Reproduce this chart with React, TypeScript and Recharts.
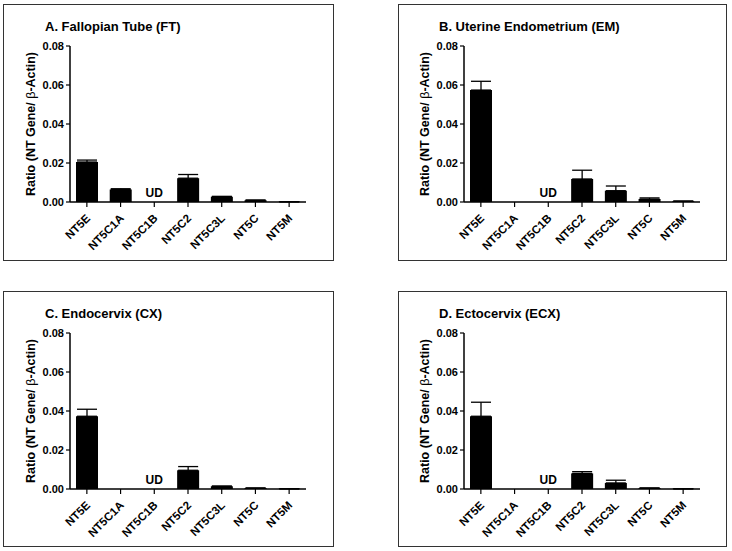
import React from "react";
import { BarChart, Bar, XAxis, YAxis, ErrorBar, ReferenceDot } from "recharts";

const genes = ["NT5E", "NT5C1A", "NT5C1B", "NT5C2", "NT5C3L", "NT5C", "NT5M"];
const undetected = [false, false, true, false, false, false, false];
const yTicks = [0, 0.02, 0.04, 0.06, 0.08];

// means and upper SEM per tissue
const ftMeans = [0.0205, 0.0064, 0, 0.0122, 0.0027, 0.0009, 0.0001];
const ftErrs = [0.001, 0.0004, 0, 0.0019, 0.0002, 0.0001, 0];
const emMeans = [0.0574, 0, 0, 0.0118, 0.0058, 0.0015, 0.0004];
const emErrs = [0.0045, 0, 0, 0.0045, 0.0024, 0.0006, 0.0001];
const cxMeans = [0.0373, 0, 0, 0.0096, 0.0014, 0.0005, 0.0001];
const cxErrs = [0.0036, 0, 0, 0.0019, 0.0001, 0, 0];
const ecxMeans = [0.0373, 0, 0, 0.008, 0.0031, 0.0005, 0.0001];
const ecxErrs = [0.0072, 0, 0, 0.0009, 0.0014, 0, 0];

const FONT = "'Liberation Sans', Arial, Helvetica, sans-serif";
const W = 340;
const H = 270;

function GeneTick(props: any) {
  const { x, y, payload } = props;
  return (
    <g transform={`translate(${x + 4},${y + 10})`}>
      <text
        x={0}
        y={0}
        textAnchor="end"
        transform="rotate(-45)"
        fontSize={11.5}
        fontWeight="bold"
        fontFamily={FONT}
        fill="#000"
      >
        {payload.value}
      </text>
    </g>
  );
}

function UdMark(props: any) {
  const { cx, cy } = props;
  return (
    <text
      x={cx}
      y={cy - 5}
      textAnchor="middle"
      fontSize={12}
      fontWeight="bold"
      fontFamily={FONT}
      fill="#000"
    >
      UD
    </text>
  );
}

function YLabel(props: any) {
  const { viewBox } = props;
  const cx = 32;
  const cy = viewBox.y + viewBox.height / 2;
  return (
    <text
      x={cx}
      y={cy}
      transform={`rotate(-90, ${cx}, ${cy})`}
      textAnchor="middle"
      dominantBaseline="middle"
      fontSize={12.5}
      fontWeight="bold"
      fontFamily={FONT}
      fill="#000"
    >
      Ratio (NT Gene/ <tspan fontWeight="normal">β</tspan>-Actin)
    </text>
  );
}

function Panel({
  title,
  means,
  errs,
  left,
  top,
}: {
  title: string;
  means: number[];
  errs: number[];
  left: number;
  top: number;
}) {
  const data = genes.map((g, i) => ({ gene: g, value: means[i], err: [0, errs[i]] }));
  return (
    <div style={{ position: "absolute", left, top, width: W, height: H }}>
      <div
        style={{
          position: "absolute",
          left: 45,
          top: 19,
          fontFamily: FONT,
          fontWeight: "bold",
          fontSize: 13,
          whiteSpace: "nowrap",
        }}
      >
        {title}
      </div>
      <BarChart
        width={W}
        height={H}
        data={data}
        margin={{ top: 46, right: 34, left: 30, bottom: 18 }}
        barSize={22}
      >
        <XAxis
          dataKey="gene"
          interval={0}
          tick={<GeneTick />}
          tickSize={5}
          tickLine={{ stroke: "#000", strokeWidth: 1.2 }}
          axisLine={{ stroke: "#000", strokeWidth: 1.5 }}
          height={50}
        />
        <YAxis
          domain={[0, 0.08]}
          ticks={yTicks}
          tickFormatter={(v: number) => v.toFixed(2)}
          tick={{ fill: "#000", fontSize: 11, fontWeight: "bold", fontFamily: FONT }}
          tickSize={4}
          tickLine={{ stroke: "#000", strokeWidth: 1.2 }}
          axisLine={{ stroke: "#000", strokeWidth: 1.5 }}
          width={40}
          label={<YLabel />}
        />
        <Bar dataKey="value" fill="#000" isAnimationActive={false}>
          <ErrorBar dataKey="err" width={10} stroke="#000" strokeWidth={1.3} direction="y" />
        </Bar>
        {genes
          .filter((_, i) => undetected[i])
          .map((g) => (
            <ReferenceDot key={g} x={g} y={0} r={0} shape={<UdMark />} />
          ))}
      </BarChart>
    </div>
  );
}

const boxStyle = (left: number, top: number, width: number, height: number): React.CSSProperties => ({
  position: "absolute",
  left,
  top,
  width,
  height,
  border: "1.5px solid #333",
  boxSizing: "border-box",
});

export default function App() {
  return (
    <div
      style={{
        position: "absolute",
        left: 0,
        top: 0,
        width: 732,
        height: 551,
        background: "#fff",
        overflow: "hidden",
      }}
    >
      <div style={boxStyle(3, 4, 331, 257)} />
      <div style={boxStyle(398, 4, 329, 257)} />
      <div style={boxStyle(3, 291, 331, 256)} />
      <div style={boxStyle(398, 291, 329, 256)} />
      <Panel title="A. Fallopian Tube (FT)" means={ftMeans} errs={ftErrs} left={0} top={0} />
      <Panel title="B. Uterine Endometrium (EM)" means={emMeans} errs={emErrs} left={394} top={0} />
      <Panel title="C. Endocervix (CX)" means={cxMeans} errs={cxErrs} left={0} top={287} />
      <Panel title="D. Ectocervix (ECX)" means={ecxMeans} errs={ecxErrs} left={394} top={287} />
    </div>
  );
}
